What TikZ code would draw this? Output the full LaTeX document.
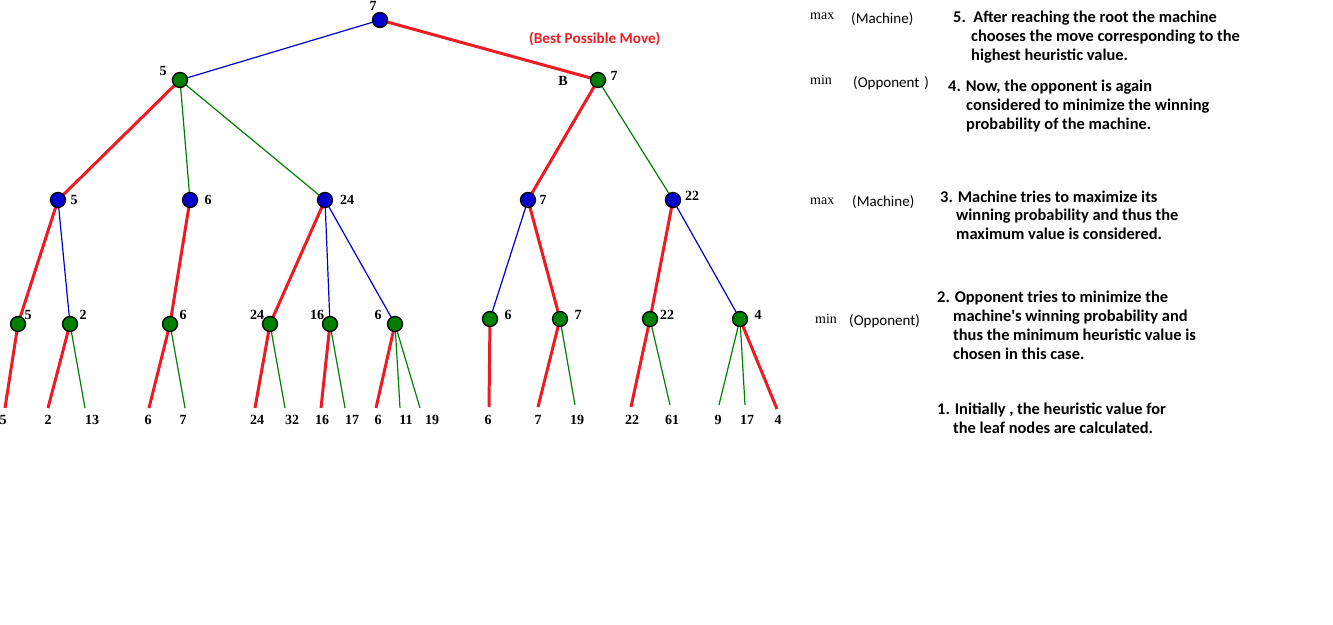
\documentclass[tikz,border=0pt]{standalone}
\usepackage{fontspec}
\setmainfont{Carlito}
\newfontfamily\numfont{Liberation Serif}
\usetikzlibrary{backgrounds}
\definecolor{cred}{RGB}{237,28,36}
\definecolor{cblue}{RGB}{0,0,204}
\definecolor{cgreen}{RGB}{0,128,0}
\begin{document}
\begin{tikzpicture}[x=1pt,y=-1pt,
  maxnode/.style={circle,draw=black,line width=1.3pt,fill=cblue,minimum size=15pt,inner sep=0pt},
  minnode/.style={circle,draw=black,line width=1.3pt,fill=cgreen,minimum size=15pt,inner sep=0pt},
  val/.style={font=\numfont\bfseries\fontsize{14}{14}\selectfont,inner sep=0pt},
  lvl/.style={font=\numfont\fontsize{14}{14}\selectfont,inner sep=0pt,anchor=base west},
  who/.style={font=\fontsize{15}{15}\selectfont,inner sep=0pt,anchor=base west},
  txt/.style={font=\bfseries\fontsize{16.4}{16.4}\selectfont,inner sep=0pt,anchor=base west},
  redE/.style={draw=cred,line width=3pt},
  blueE/.style={draw=cblue,line width=1.2pt},
  greenE/.style={draw=cgreen,line width=1.2pt}]
\path[use as bounding box] (0,0) rectangle (1333,624);
% tree nodes
\node[maxnode] (r) at (380,20) {};
\node[minnode] (a) at (180,80) {};
\node[minnode] (b) at (598,80) {};
\node[maxnode] (a1) at (58,200) {};
\node[maxnode] (a2) at (190,200) {};
\node[maxnode] (a3) at (325,200) {};
\node[maxnode] (b1) at (528,200) {};
\node[maxnode] (b2) at (673,200) {};
\node[minnode] (c1) at (18,324) {};
\node[minnode] (c2) at (70,324) {};
\node[minnode] (c3) at (170,324) {};
\node[minnode] (c4) at (270,324) {};
\node[minnode] (c5) at (330,324) {};
\node[minnode] (c6) at (395,324) {};
\node[minnode] (c7) at (490,319) {};
\node[minnode] (c8) at (560,319) {};
\node[minnode] (c9) at (650,319) {};
\node[minnode] (c10) at (740,319) {};
% leaf ends
\coordinate (l1) at (5,408);
\coordinate (l2) at (48,408);
\coordinate (l3) at (85,408);
\coordinate (l4) at (149,408);
\coordinate (l5) at (185,408);
\coordinate (l6) at (255,408);
\coordinate (l7) at (285,408);
\coordinate (l8) at (321,408);
\coordinate (l9) at (345,408);
\coordinate (l10) at (376,408);
\coordinate (l11) at (400,408);
\coordinate (l12) at (420,408);
\coordinate (l13) at (489,407);
\coordinate (l14) at (538,407);
\coordinate (l15) at (575,405);
\coordinate (l16) at (631,407);
\coordinate (l17) at (670,405);
\coordinate (l18) at (719,405);
\coordinate (l19) at (745,405);
\coordinate (l20) at (777,409);
% value labels
\node[val] (vr) at (373,6) {7};
\node[val] (va) at (163,71) {5};
\node[val] (vbB) at (563,81) {B};
\node[val] (vb) at (614,76) {7};
\node[val] (va1) at (74,200) {5};
\node[val] (va2) at (208,200) {6};
\node[val] (va3) at (347,200) {24};
\node[val] (vb1) at (543,200) {7};
\node[val] (vb2) at (692,196) {22};
\node[val] (vc1) at (28,315) {5};
\node[val] (vc2) at (83,315) {2};
\node[val] (vc3) at (183,315) {6};
\node[val] (vc4) at (257,315) {24};
\node[val] (vc5) at (317,315) {16};
\node[val] (vc6) at (378,315) {6};
\node[val] (vc7) at (508,315) {6};
\node[val] (vc8) at (578,315) {7};
\node[val] (vc9) at (667,315) {22};
\node[val] (vc10) at (758,315) {4};
\node[val] (t1) at (3,420) {5};
\node[val] (t2) at (48,420) {2};
\node[val] (t3) at (92,420) {13};
\node[val] (t4) at (148,420) {6};
\node[val] (t5) at (183,420) {7};
\node[val] (t6) at (257,420) {24};
\node[val] (t7) at (292,420) {32};
\node[val] (t8) at (322,420) {16};
\node[val] (t9) at (352,420) {17};
\node[val] (t10) at (378,420) {6};
\node[val] (t11) at (406,420) {11};
\node[val] (t12) at (432,420) {19};
\node[val] (t13) at (488,420) {6};
\node[val] (t14) at (538,420) {7};
\node[val] (t15) at (577,420) {19};
\node[val] (t16) at (632,420) {22};
\node[val] (t17) at (672,420) {61};
\node[val] (t18) at (718,420) {9};
\node[val] (t19) at (747,420) {17};
\node[val] (t20) at (778,420) {4};
% best move
\node[who,font=\bfseries\fontsize{15.2}{15.2}\selectfont,text=cred] (best) at (529,43) {(Best Possible Move)};
% right side texts
\node[lvl] (m1) at (810,19) {max};
\node[who] (m1w) at (851,23) {(Machine)};
\node[lvl] (m2) at (810,84) {min};
\node[who] (m2w) at (853,87) {(Opponent\,\,)};
\node[lvl] (m3) at (810,204) {max};
\node[who] (m3w) at (852,206) {(Machine)};
\node[lvl] (m4) at (815,323) {min};
\node[who] (m4w) at (849,325) {(Opponent)};
\node[txt] (s5a) at (953,22) {5.\ \ After reaching the root the machine};
\node[txt] (s5b) at (971,41) {chooses the move corresponding to the};
\node[txt] (s5c) at (971,60) {highest heuristic value.};
\node[txt] (s4a) at (948,91) {4. Now, the opponent is again};
\node[txt] (s4b) at (966,110) {considered to minimize the winning};
\node[txt] (s4c) at (966,129) {probability of the machine.};
\node[txt] (s3a) at (940,202) {3. Machine tries to maximize its};
\node[txt] (s3b) at (956,220) {winning probability and thus the};
\node[txt] (s3c) at (956,239) {maximum value is considered.};
\node[txt] (s2a) at (937,302) {2. Opponent tries to minimize the};
\node[txt] (s2b) at (953,321) {machine\textquotesingle s winning probability and};
\node[txt] (s2c) at (953,340) {thus the minimum heuristic value is};
\node[txt] (s2d) at (953,359) {chosen in this case.};
\node[txt] (s1a) at (937,414) {1. Initially , the heuristic value for};
\node[txt] (s1b) at (953,433) {the leaf nodes are calculated.};
\begin{scope}[on background layer]
\fill[white] (0,0) rectangle (1333,624);
% level 0-1
\draw[blueE] (r.center) -- (a.center);
\draw[blueE] (r.center) -- (b.center);
\draw[redE] (r.center) -- (b.center);
% level 1-2
\draw[greenE] (a.center) -- (a1.center);
\draw[redE] (a.center) -- (a1.center);
\draw[greenE] (a.center) -- (a2.center);
\draw[greenE] (a.center) -- (a3.center);
\draw[redE] (b.center) -- (b1.center);
\draw[greenE] (b.center) -- (b2.center);
% level 2-3
\draw[blueE] (a1.center) -- (c1.center);
\draw[redE] (a1.center) -- (c1.center);
\draw[blueE] (a1.center) -- (c2.center);
\draw[blueE] (a2.center) -- (c3.center);
\draw[redE] (a2.center) -- (c3.center);
\draw[redE] (a3.center) -- (c4.center);
\draw[blueE] (a3.center) -- (c5.center);
\draw[blueE] (a3.center) -- (c6.center);
\draw[blueE] (b1.center) -- (c7.center);
\draw[blueE] (b1.center) -- (c8.center);
\draw[redE] (b1.center) -- (c8.center);
\draw[redE] (b2.center) -- (c9.center);
\draw[blueE] (b2.center) -- (c10.center);
% level 3-leaves
\draw[redE] (c1.center) -- (l1);
\draw[redE] (c2.center) -- (l2);
\draw[greenE] (c2.center) -- (l3);
\draw[redE] (c3.center) -- (l4);
\draw[greenE] (c3.center) -- (l5);
\draw[redE] (c4.center) -- (l6);
\draw[greenE] (c4.center) -- (l7);
\draw[redE] (c5.center) -- (l8);
\draw[greenE] (c5.center) -- (l9);
\draw[redE] (c6.center) -- (l10);
\draw[greenE] (c6.center) -- (l11);
\draw[greenE] (c6.center) -- (l12);
\draw[redE] (c7.center) -- (l13);
\draw[redE] (c8.center) -- (l14);
\draw[greenE] (c8.center) -- (l15);
\draw[redE] (c9.center) -- (l16);
\draw[greenE] (c9.center) -- (l17);
\draw[greenE] (c10.center) -- (l18);
\draw[greenE] (c10.center) -- (l19);
\draw[redE] (c10.center) -- (l20);
\end{scope}
\end{tikzpicture}
\end{document}
